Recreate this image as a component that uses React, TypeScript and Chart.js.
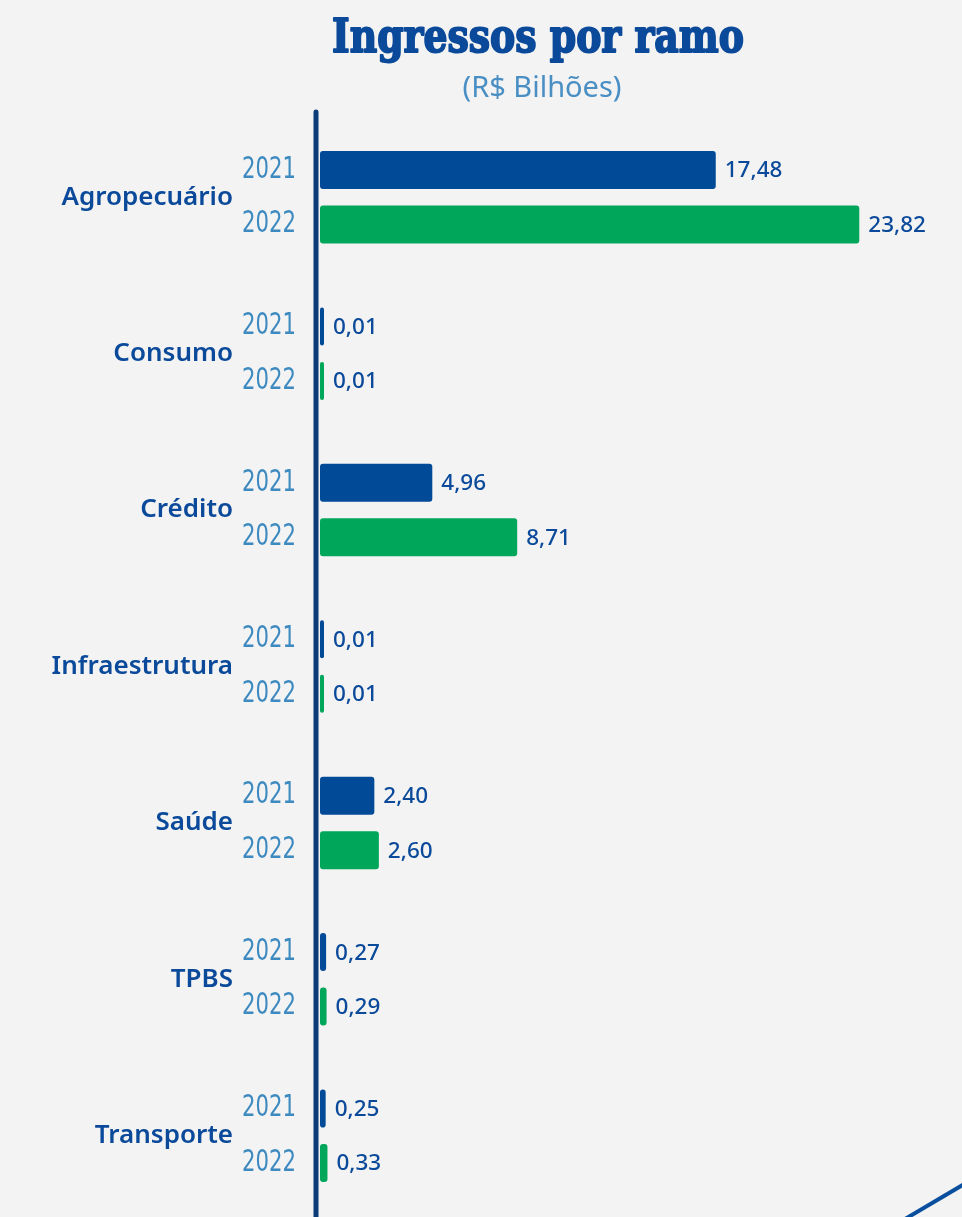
import React, { useEffect, useRef } from "react";
import { Chart, registerables } from "chart.js";

Chart.register(...registerables);

const categories = ["Agropecuário", "Consumo", "Crédito", "Infraestrutura", "Saúde", "TPBS", "Transporte"];
const years = ["2021", "2022"];
const values2021 = [17.48, 0.01, 4.96, 0.01, 2.4, 0.27, 0.25];
const values2022 = [23.82, 0.01, 8.71, 0.01, 2.6, 0.29, 0.33];
const title = "Ingressos por ramo";
const subtitle = "(R$ Bilhões)";

const BLUE = "#004a98";
const GREEN = "#00a65a";
const TEXT = "#0b4a9a";
const YEAR = "#3d8ac0";

const fmt = (v: number) => v.toFixed(2).replace(".", ",");

const decorPlugin = {
  id: "decor",
  beforeDraw(chart: any) {
    const { ctx, width, height } = chart;
    ctx.save();
    ctx.fillStyle = "#f3f3f3";
    ctx.fillRect(0, 0, width, height);
    ctx.restore();
  },
  afterDatasetsDraw(chart: any) {
    const { ctx } = chart;
    const yScale = chart.scales.y;
    ctx.save();
    // title
    ctx.textAlign = "center";
    ctx.textBaseline = "alphabetic";
    ctx.fillStyle = TEXT;
    ctx.strokeStyle = TEXT;
    ctx.lineWidth = 2;
    ctx.lineJoin = "round";
    ctx.font = "bold 46px 'DejaVu Serif', serif";
    ctx.fillText(title, 538, 52, 412);
    ctx.strokeText(title, 538, 52, 412);
    ctx.fillStyle = "#4a8fc4";
    ctx.font = "29px 'Noto Sans', sans-serif";
    ctx.fillText(subtitle, 542, 97);

    // axis line
    ctx.strokeStyle = "#0a3a78";
    ctx.lineWidth = 5;
    ctx.lineCap = "round";
    ctx.beginPath();
    ctx.moveTo(316, 112);
    ctx.lineTo(316, 1230);
    ctx.stroke();

    // category labels
    ctx.textAlign = "right";
    ctx.textBaseline = "middle";
    ctx.fillStyle = TEXT;
    ctx.font = "600 26px 'Noto Sans', sans-serif";
    categories.forEach((c, i) => {
      const y = yScale.getPixelForValue(i);
      ctx.fillText(c, 233, y);
    });

    // year labels and value labels
    chart.data.datasets.forEach((ds: any, di: number) => {
      const meta = chart.getDatasetMeta(di);
      meta.data.forEach((bar: any, i: number) => {
        ctx.textAlign = "right";
        ctx.textBaseline = "middle";
        ctx.fillStyle = YEAR;
        ctx.font = "30px 'Liberation Sans Narrow', 'DejaVu Sans Condensed', sans-serif";
        ctx.fillText(years[di], 296, bar.y, 54);
        ctx.textAlign = "left";
        ctx.fillStyle = TEXT;
        ctx.font = "500 22.5px 'Noto Sans', sans-serif";
        ctx.fillText(fmt(ds.data[i]), bar.x + 9, bar.y + 1);
      });
    });

    // decorative line bottom right
    ctx.strokeStyle = "#0a4f9e";
    ctx.lineWidth = 4;
    ctx.lineCap = "butt";
    ctx.beginPath();
    ctx.moveTo(900, 1222);
    ctx.lineTo(966, 1183);
    ctx.stroke();
    ctx.restore();
  },
};

export default function App() {
  const ref = useRef<HTMLCanvasElement>(null);
  useEffect(() => {
    document.body.style.margin = "0";
    document.body.style.background = "#f3f3f3";
    const common = {
      borderRadius: 3,
      borderSkipped: false,
      minBarLength: 4,
      categoryPercentage: 0.697,
      barPercentage: 0.697,
    };
    const chart = new Chart(ref.current!, {
      type: "bar",
      data: {
        labels: categories,
        datasets: [
          { label: years[0], data: values2021, backgroundColor: BLUE, ...common },
          { label: years[1], data: values2022, backgroundColor: GREEN, ...common },
        ],
      },
      options: {
        indexAxis: "y",
        responsive: false,
        animation: false,
        layout: { padding: { left: 320, right: 76, top: 119, bottom: 3 } },
        plugins: { legend: { display: false }, tooltip: { enabled: false }, title: { display: false } },
        scales: {
          x: { display: false, min: 0, max: 25, grid: { display: false } },
          y: { display: false, grid: { display: false } },
        },
      },
      plugins: [decorPlugin],
    });
    return () => chart.destroy();
  }, []);
  return <canvas ref={ref} width={962} height={1217} style={{ display: "block" }} />;
}
